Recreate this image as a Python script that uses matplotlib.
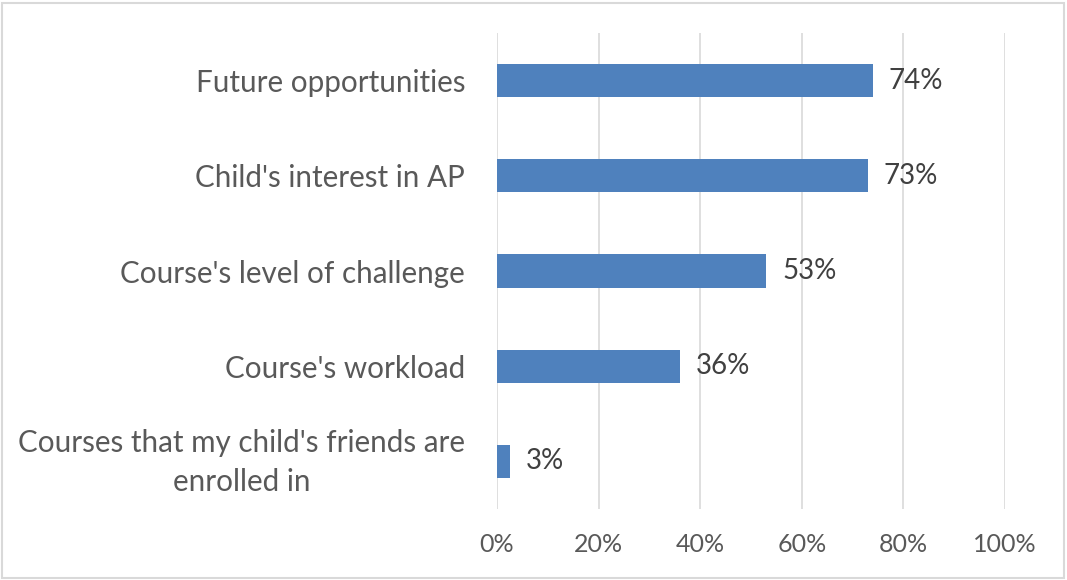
import matplotlib
matplotlib.use("Agg")
import matplotlib.pyplot as plt
import matplotlib.transforms as mtransforms
from matplotlib.patches import Rectangle

categories = [
    "Future opportunities",
    "Child's interest in AP",
    "Course's level of challenge",
    "Course's workload",
    "Courses that my child's friends are\nenrolled in",
]
values = [74, 73, 53, 36, 2.6]
xticks = [0, 20, 40, 60, 80, 100]
xtick_labels = ["0%", "20%", "40%", "60%", "80%", "100%"]

plt.rcParams["font.family"] = ["Lato", "DejaVu Sans"]

fig = plt.figure(figsize=(10.67, 5.80), dpi=100)
ax = fig.add_axes([497 / 1067, 1 - 509 / 580, (1005 - 497) / 1067, (509 - 33) / 580])

pos = list(range(len(categories)))
bars = ax.barh(pos, values, height=0.35, color="#4F81BD", zorder=3)

for b, v in zip(bars, values):
    ax.text(b.get_width() + 3.1, b.get_y() + b.get_height() / 2, f"{v:.0f}%",
            va="center", ha="left", fontsize=20, color="#404040", zorder=4)

ax.set_xlim(0, 100)
ax.set_ylim(len(categories) - 0.5, -0.5)
ax.set_xticks(xticks)
ax.set_xticklabels(xtick_labels, fontsize=18, color="#595959")
ax.set_yticks(pos)
ax.set_yticklabels(categories, fontsize=21.3, color="#595959",
                   multialignment="center", linespacing=1.5)
ax.tick_params(axis="y", length=0, pad=23)
ax.tick_params(axis="x", length=0, pad=17)
ax.grid(axis="x", color="#D9D9D9", linewidth=1.2, zorder=0)
for s in ax.spines.values():
    s.set_visible(False)

# nudge the two-line label up slightly
lbl = ax.get_yticklabels()[-1]
lbl.set_transform(lbl.get_transform() +
                  mtransforms.ScaledTranslation(0, 5 / 72, fig.dpi_scale_trans))

fig.patches.append(Rectangle((2 / 1067, 2 / 580), 1 - 5 / 1067, 1 - 5 / 580,
                             transform=fig.transFigure, fill=False,
                             edgecolor="#D9D9D9", linewidth=1.5))

fig.savefig("out.png", dpi=100, facecolor="white")
